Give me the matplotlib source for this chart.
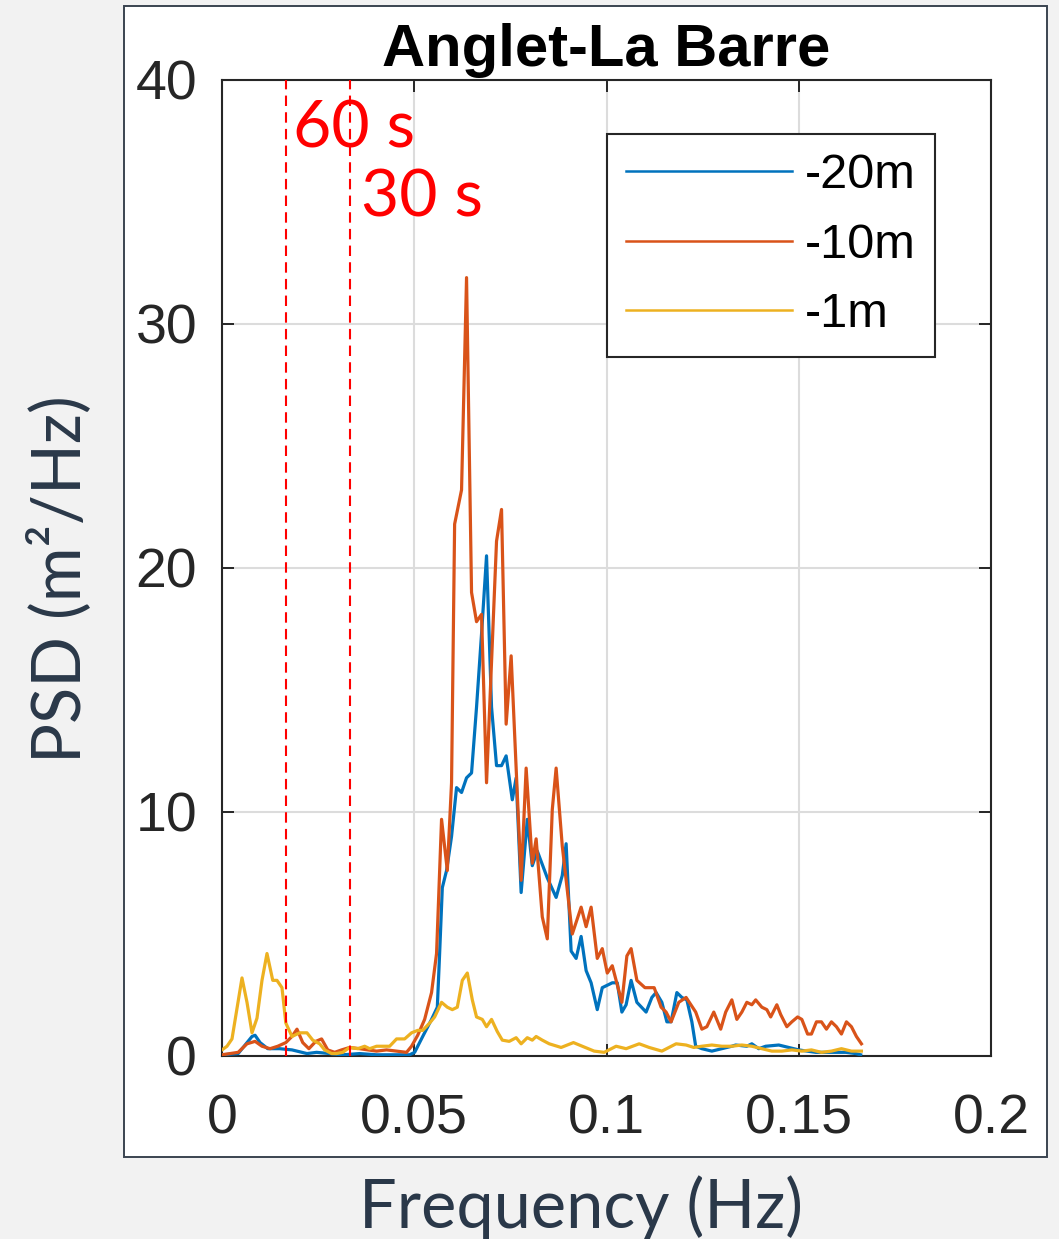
import matplotlib
matplotlib.use("Agg")
import matplotlib.pyplot as plt
from matplotlib.patches import Rectangle

# ---- data: PSD at three depths, Anglet-La Barre ----
series_labels = ["-20m", "-10m", "-1m"]

freq_20m = [0, 0.0042, 0.0060, 0.0078, 0.0086, 0.0099, 0.0119, 0.0150, 0.0182, 0.0221,
            0.0246, 0.0280, 0.0314, 0.0358, 0.0402, 0.0444, 0.0488, 0.0501, 0.0522, 0.0545,
            0.0560, 0.0566, 0.0573, 0.0584, 0.0597, 0.0610, 0.0623, 0.0636, 0.0649, 0.0662,
            0.0675, 0.0688, 0.0701, 0.0714, 0.0727, 0.0739, 0.0755, 0.0765, 0.0778, 0.0794,
            0.0807, 0.0820, 0.0846, 0.0869, 0.0885, 0.0895, 0.0908, 0.0921, 0.0934, 0.0947,
            0.0960, 0.0976, 0.0989, 0.1015, 0.1028, 0.1040, 0.1051, 0.1064, 0.1079, 0.1103,
            0.1118, 0.1129, 0.1144, 0.1157, 0.1168, 0.1183, 0.1196, 0.1209, 0.1222, 0.1232,
            0.1248, 0.1274, 0.1300, 0.1326, 0.1336, 0.1365, 0.1378, 0.1396, 0.1414, 0.1448,
            0.1474, 0.1500, 0.1544, 0.1585, 0.1622, 0.1648, 0.1661]
psd_20m = [0.05, 0.1, 0.45, 0.8, 0.85, 0.55, 0.3, 0.3, 0.25, 0.1,
           0.15, 0.1, 0.05, 0.1, 0.05, 0.05, 0.05, 0.15, 0.8, 1.5,
           2.0, 4.2, 6.9, 7.6, 9.0, 11.0, 10.8, 11.4, 11.6, 14.3,
           17.3, 20.5, 14.3, 11.9, 11.9, 12.3, 10.5, 11.4, 6.7, 9.7,
           7.8, 8.4, 7.3, 6.5, 7.4, 8.7, 4.3, 4.0, 4.9, 3.5,
           3.0, 1.9, 2.8, 3.0, 3.0, 1.8, 2.1, 3.1, 2.2, 1.8,
           2.4, 2.6, 2.2, 1.4, 1.4, 2.6, 2.4, 2.3, 1.4, 0.4,
           0.3, 0.2, 0.3, 0.4, 0.45, 0.4, 0.5, 0.3, 0.4, 0.45,
           0.35, 0.25, 0.15, 0.15, 0.15, 0.1, 0.05]

freq_10m = [0, 0.0021, 0.0042, 0.0065, 0.0086, 0.0104, 0.0125, 0.0145, 0.0166, 0.0182,
            0.0195, 0.0210, 0.0226, 0.0244, 0.0259, 0.0275, 0.0293, 0.0311, 0.0332, 0.0358,
            0.0379, 0.0402, 0.0428, 0.0454, 0.0480, 0.0493, 0.0509, 0.0527, 0.0545, 0.0558,
            0.0563, 0.0571, 0.0586, 0.0597, 0.0605, 0.0623, 0.0636, 0.0649, 0.0662, 0.0675,
            0.0688, 0.0714, 0.0727, 0.0739, 0.0752, 0.0778, 0.0791, 0.0807, 0.0817, 0.0833,
            0.0846, 0.0859, 0.0869, 0.0885, 0.0911, 0.0934, 0.0947, 0.0960, 0.0976, 0.0989,
            0.1002, 0.1015, 0.1040, 0.1053, 0.1064, 0.1079, 0.1100, 0.1124, 0.1142, 0.1155,
            0.1168, 0.1188, 0.1207, 0.1232, 0.1248, 0.1261, 0.1279, 0.1297, 0.1310, 0.1326,
            0.1339, 0.1352, 0.1365, 0.1378, 0.1388, 0.1404, 0.1417, 0.1427, 0.1443, 0.1453,
            0.1469, 0.1482, 0.1497, 0.1508, 0.1523, 0.1533, 0.1546, 0.1559, 0.1572, 0.1585,
            0.1598, 0.1611, 0.1624, 0.1637, 0.1650, 0.1663]
psd_10m = [0.05, 0.1, 0.15, 0.5, 0.6, 0.4, 0.3, 0.4, 0.55, 0.8,
           1.1, 0.55, 0.3, 0.6, 0.7, 0.25, 0.15, 0.25, 0.35, 0.3,
           0.25, 0.2, 0.25, 0.2, 0.15, 0.4, 0.85, 1.5, 2.6, 4.2,
           6.3, 9.7, 7.6, 11.2, 21.8, 23.2, 31.9, 19.0, 17.8, 18.1,
           11.2, 21.1, 22.4, 13.6, 16.4, 7.2, 11.8, 7.9, 8.9, 5.7,
           4.8, 10.1, 11.8, 8.6, 5.0, 6.1, 5.3, 6.1, 4.0, 4.4,
           3.4, 3.7, 2.2, 4.1, 4.4, 3.1, 2.8, 2.8, 2.0, 1.8,
           1.4, 2.2, 2.4, 1.8, 1.1, 1.2, 1.8, 1.1, 1.8, 2.3,
           1.5, 1.8, 2.2, 2.1, 2.3, 2.0, 1.9, 1.6, 2.1, 1.7,
           1.2, 1.4, 1.6, 1.5, 0.9, 0.9, 1.4, 1.4, 1.1, 1.4,
           1.2, 0.9, 1.4, 1.2, 0.8, 0.5]

freq_1m = [0, 0.0013, 0.0026, 0.0052, 0.0065, 0.0078, 0.0091, 0.0104, 0.0117, 0.0132,
           0.0143, 0.0156, 0.0166, 0.0182, 0.0202, 0.0221, 0.0236, 0.0254, 0.0267, 0.0285,
           0.0298, 0.0314, 0.0332, 0.0353, 0.0371, 0.0384, 0.0402, 0.0418, 0.0436, 0.0454,
           0.0475, 0.0493, 0.0509, 0.0522, 0.0540, 0.0553, 0.0571, 0.0586, 0.0599, 0.0612,
           0.0625, 0.0638, 0.0651, 0.0662, 0.0677, 0.0688, 0.0701, 0.0716, 0.0729, 0.0747,
           0.0765, 0.0778, 0.0794, 0.0807, 0.0817, 0.0833, 0.0851, 0.0882, 0.0914, 0.0937,
           0.0968, 0.0994, 0.1025, 0.1051, 0.1085, 0.1111, 0.1144, 0.1181, 0.1207, 0.1227,
           0.1248, 0.1274, 0.1300, 0.1326, 0.1352, 0.1378, 0.1404, 0.1430, 0.1456, 0.1482,
           0.1508, 0.1533, 0.1559, 0.1585, 0.1611, 0.1637, 0.1663]
psd_1m = [0.25, 0.4, 0.7, 3.2, 2.2, 0.95, 1.55, 3.1, 4.2, 3.1,
          3.1, 2.8, 1.35, 0.8, 0.95, 0.95, 0.65, 0.5, 0.25, 0.1,
          0.1, 0.15, 0.35, 0.3, 0.4, 0.3, 0.4, 0.4, 0.4, 0.7,
          0.7, 0.95, 1.05, 1.05, 1.35, 1.6, 2.2, 2.0, 1.9, 2.0,
          3.1, 3.4, 2.3, 1.6, 1.5, 1.2, 1.5, 1.0, 0.65, 0.6,
          0.75, 0.5, 0.75, 0.65, 0.8, 0.65, 0.5, 0.35, 0.55, 0.4,
          0.2, 0.15, 0.4, 0.3, 0.5, 0.35, 0.2, 0.5, 0.45, 0.35,
          0.4, 0.45, 0.4, 0.4, 0.45, 0.4, 0.3, 0.2, 0.2, 0.25,
          0.2, 0.25, 0.15, 0.2, 0.3, 0.2, 0.2]

# reference periods marked with dashed lines (seconds)
periods = [60, 30]
period_labels = ["60 s", "30 s"]

x_ticks = [0, 0.05, 0.1, 0.15, 0.2]
x_ticklabels = ["0", "0.05", "0.1", "0.15", "0.2"]
y_ticks = [0, 10, 20, 30, 40]

# ---- styling ----
colors = ["#0072BD", "#D95319", "#EDB120"]
axis_color = "#262626"
label_color = "#2a3849"
sans = ["Liberation Sans", "DejaVu Sans"]
humanist = ["Lato", "DejaVu Sans"]

W, H = 1059, 1239
fig = plt.figure(figsize=(W / 100, H / 100), dpi=100)
fig.patch.set_facecolor("#f2f2f2")

# white panel with a thin dark border behind the axes
panel = Rectangle((124 / W, 1 - 1157 / H), (1047 - 124) / W, (1157 - 6) / H,
                  transform=fig.transFigure, facecolor="white",
                  edgecolor="#3a4450", linewidth=1.4, zorder=-1)
fig.add_artist(panel)

ax = fig.add_axes([222 / W, 1 - 1056 / H, (991 - 222) / W, (1056 - 80) / H])
ax.set_facecolor("white")

for f, p, c, lab in zip([freq_20m, freq_10m, freq_1m],
                        [psd_20m, psd_10m, psd_1m], colors, series_labels):
    ax.plot(f, p, color=c, linewidth=2.3, label=lab, zorder=3)

for per in periods:
    ax.axvline(1 / per, color="#ff0000", linewidth=1.5, linestyle=(0, (5, 3)), zorder=4)

text_pos = [(0.0184, 37.25), (0.0361, 34.4)]
for (tx, ty), s in zip(text_pos, period_labels):
    ax.text(tx, ty, s, color="#ff0000", fontsize=47.5, family=humanist,
            ha="left", va="baseline", zorder=5)

ax.set_xlim(0, 0.2)
ax.set_ylim(0, 40)
ax.set_xticks(x_ticks)
ax.set_xticklabels(x_ticklabels)
ax.set_yticks(y_ticks)
ax.grid(True, color="#dcdcdc", linewidth=1.5, zorder=0)
ax.set_axisbelow(True)

for sp in ax.spines.values():
    sp.set_color(axis_color)
    sp.set_linewidth(1.5)

ax.tick_params(axis="both", direction="in", top=True, right=True,
               length=8.5, width=1.4, color=axis_color,
               labelsize=40, labelcolor=axis_color)
ax.tick_params(axis="x", pad=27)
ax.tick_params(axis="y", pad=18)
for lbl in ax.get_xticklabels() + ax.get_yticklabels():
    lbl.set_family(sans)

ax.set_title("Anglet-La Barre", fontsize=43, fontweight="bold",
             family=sans, color="black", pad=10)

leg = ax.legend(loc="upper right", bbox_to_anchor=((935 - 222) / 769, (1056 - 134) / 976),
                prop={"family": sans, "size": 35}, frameon=True, fancybox=False,
                framealpha=1, edgecolor=axis_color, handlelength=3.4,
                handletextpad=0.27, labelspacing=0.5, borderpad=0.4,
                borderaxespad=0)
leg.get_frame().set_linewidth(1.5)
for ln in leg.get_lines():
    ln.set_linewidth(1.8)

fig.text(581 / W, 1 - 1228 / H, "Frequency (Hz)", fontsize=48, family=humanist,
         color=label_color, ha="center", va="baseline")
fig.text(80 / W, 1 - 579 / H, "PSD (m²/Hz)", fontsize=48, family=humanist,
         color=label_color, rotation=90, rotation_mode="anchor",
         ha="center", va="baseline")

fig.savefig("out.png", dpi=100, facecolor=fig.get_facecolor())
